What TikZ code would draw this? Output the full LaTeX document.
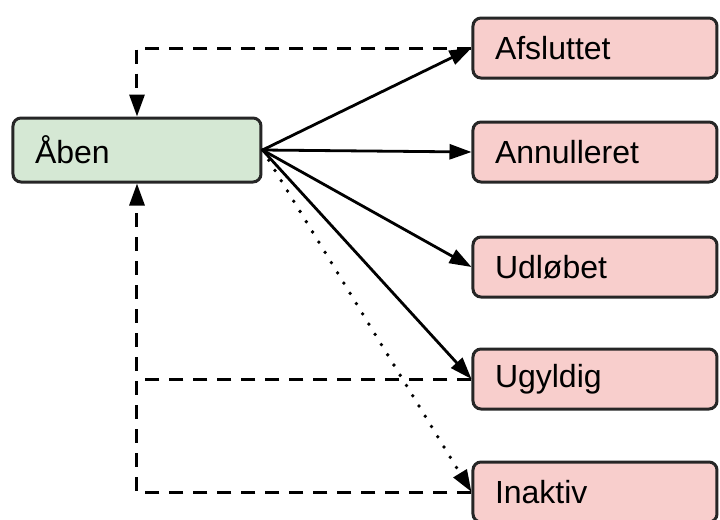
\documentclass[tikz,border=0pt]{standalone}
\usepackage{fontspec}
\setmainfont{Liberation Sans}
\definecolor{OpenFill}{HTML}{D5E8D4}
\definecolor{ClosedFill}{HTML}{F8CECC}
\usetikzlibrary{arrows.meta,positioning,calc}
\tikzset{status layout/.style={%
    y=-0.5pt,%
    x=0.5pt,%
    every node/.style={%
        draw=black!85, line width=1.5pt, rounded corners=4pt,%
        inner xsep=11pt, align=left, minimum height=30pt,%
        font=\fontsize{16}{19}\selectfont%
    }%
}}
\tikzset{state open/.style={%
    fill=OpenFill, text width=102pt, minimum height=32pt%
}}
\tikzset{state closed/.style={%
    fill=ClosedFill, text width=100pt%
}}
\tikzset{move/.style={%
    black, line width=1.4pt, -{Triangle[width=7.5pt,length=11pt]}%
}}
\tikzset{move maybe/.style={%
    move, dash pattern=on 0pt off 6pt, line cap=round, line width=1.9pt%
}}
\tikzset{move back/.style={%
    move, line width=1.5pt, dash pattern=on 7pt off 5pt%
}}

\begin{document}
\begin{tikzpicture}[status layout]
    \useasboundingbox (0,0) rectangle (720,520);

    \node[state open] (aaben) at (137,150) {Åben};

    \node[state closed] (afsluttet) at (595,48) {Afsluttet};
    \node[state closed] (annulleret) at (595,152) {Annulleret};
    \node[state closed] (udloebet) at (595,267) {Udløbet};
    \node[state closed] (ugyldig) at (595,379) {Ugyldig};
    \node[state closed] (inaktiv) at (595,492) {Inaktiv};

    \draw[move] (aaben.east) -> (afsluttet.west);
    \draw[move] (aaben.east) -> (annulleret.west);
    \draw[move] (aaben.east) -> (udloebet.west);
    \draw[move] (aaben.east) -> (ugyldig.west);
    \draw[move maybe] (aaben.east) -> (inaktiv.west);

    % back to open
    \coordinate (join) at (aaben.south |- ugyldig.west);
    \draw[move back] (afsluttet.west) -| (aaben.north);
    \draw[move back, -] (ugyldig.west) -- (join);
    \draw[move back] (inaktiv.west) -| (aaben.south);
\end{tikzpicture}
\end{document}
